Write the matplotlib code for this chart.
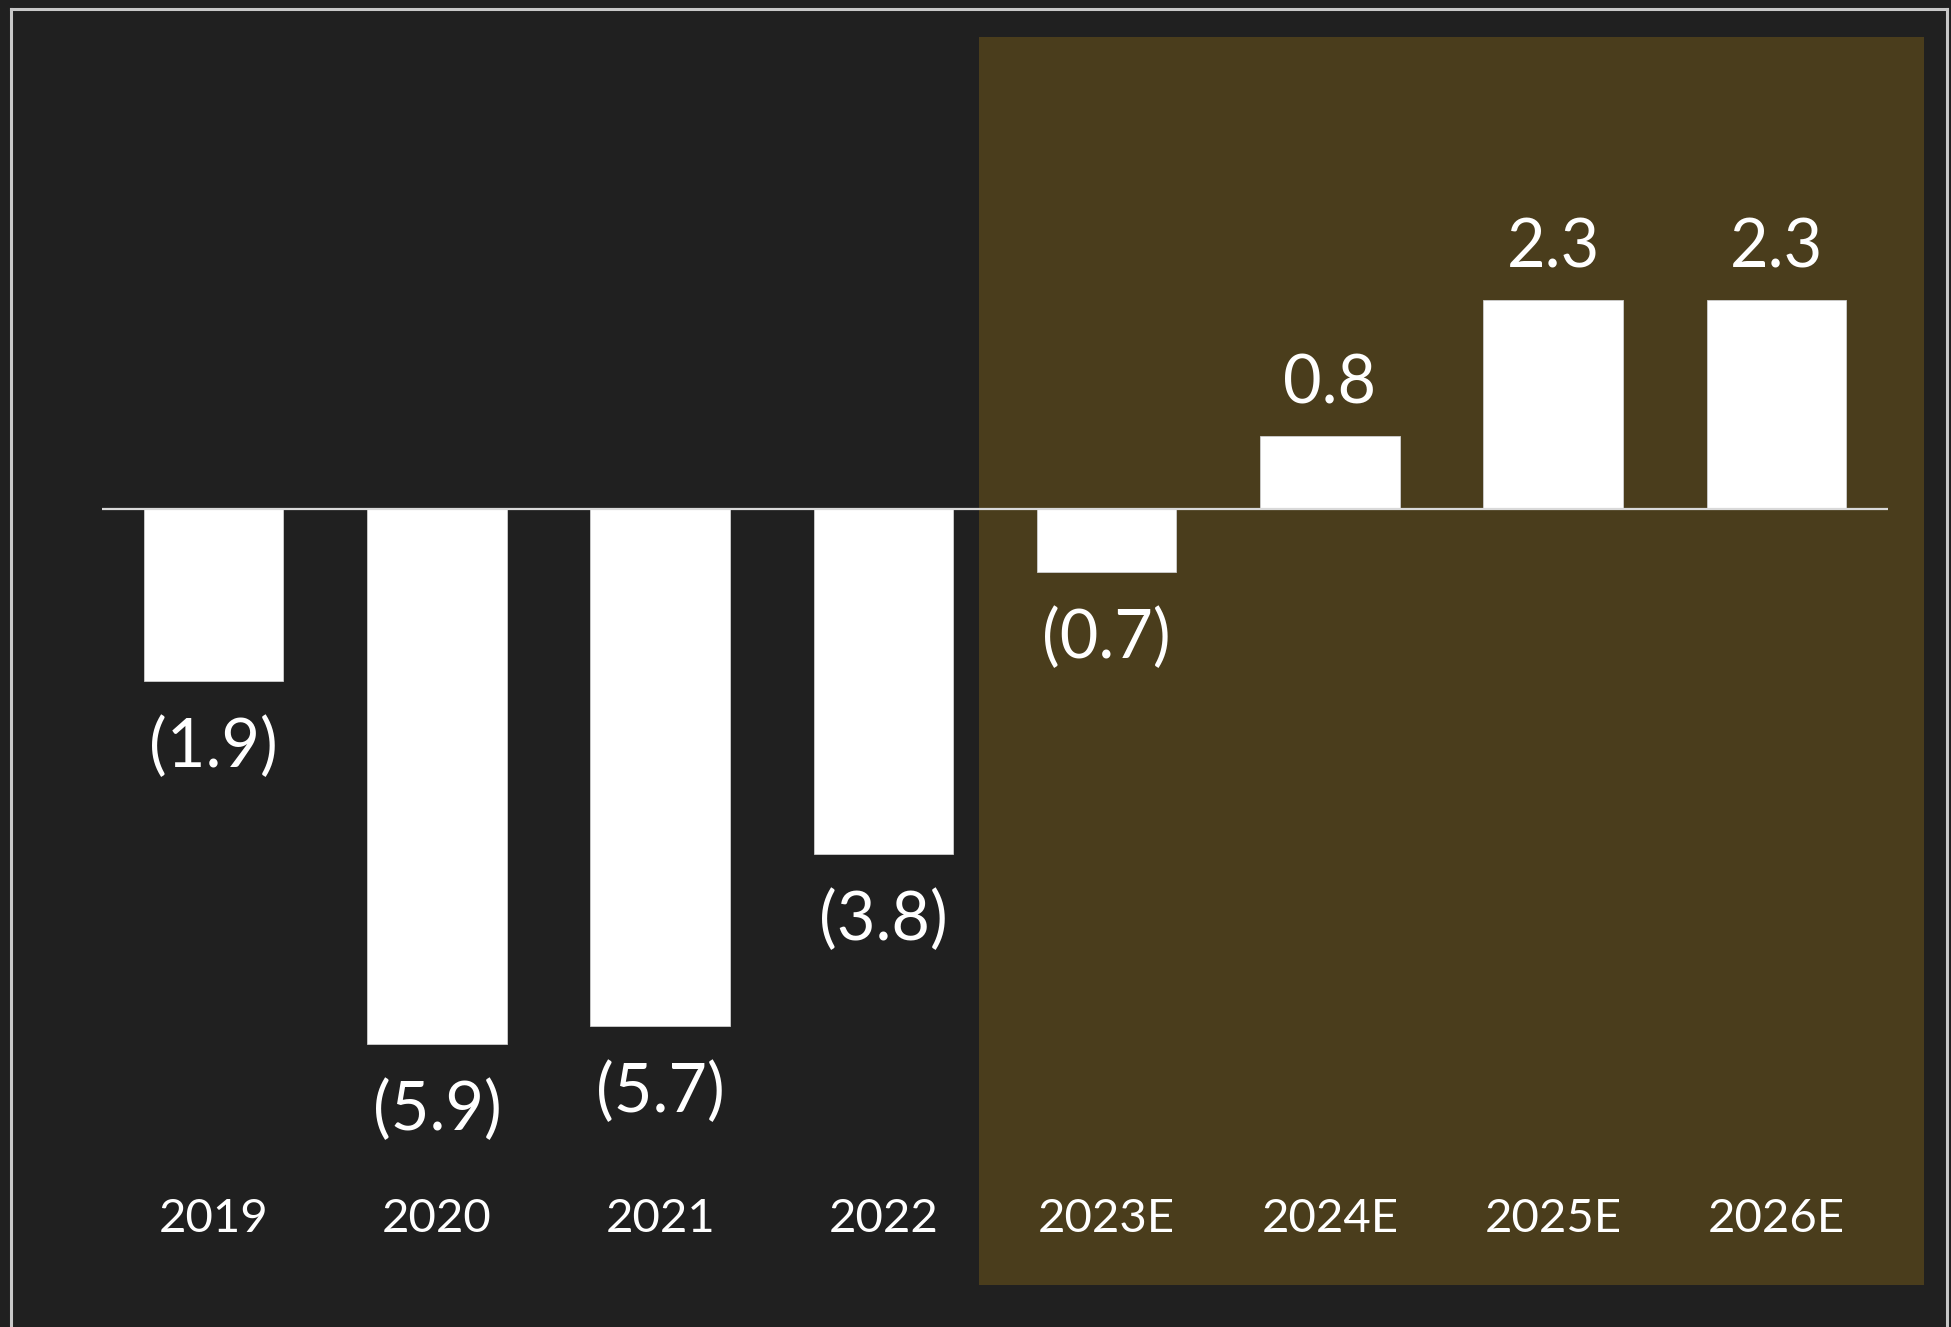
import matplotlib.pyplot as plt
from matplotlib.patches import Rectangle
from matplotlib.lines import Line2D

years = ["2019", "2020", "2021", "2022", "2023E", "2024E", "2025E", "2026E"]
values = [-1.9, -5.9, -5.7, -3.8, -0.7, 0.8, 2.3, 2.3]
labels = ["(1.9)", "(5.9)", "(5.7)", "(3.8)", "(0.7)", "0.8", "2.3", "2.3"]
first_estimate = 4  # index of first forecast year (shaded)

bg = "#202020"
shade = "#4a3d1c"

plt.rcParams['font.family'] = ['Lato', 'DejaVu Sans']

fig = plt.figure(figsize=(19.51, 13.27), dpi=100)
fig.patch.set_facecolor(bg)

ax = fig.add_axes([0.0523, 0.0317, 0.9154, 0.9405])
ax.set_facecolor(bg)
ax.set_xlim(-0.5, 7.5)
ax.set_ylim(-8.55, 5.2)

# shaded forecast block (goes a little past the axis to the right)
ax.add_patch(Rectangle((first_estimate - 0.57, 0), 4.23, 1,
                       transform=ax.get_xaxis_transform(),
                       facecolor=shade, edgecolor="none", clip_on=False, zorder=0))

x = list(range(len(years)))
ax.bar(x, values, width=0.625, color="white", edgecolor="#d0d0d0",
       linewidth=0.6, zorder=2)
ax.axhline(0, color="#d9d9d9", linewidth=1.6, zorder=3)

for i, (v, lab) in enumerate(zip(values, labels)):
    off = 37 if v > 0 else -48
    ax.annotate(lab, (i, v), xytext=(0, off), textcoords="offset points",
                ha="center", va="center", color="white", fontsize=48)
    ax.text(i, 0.053, years[i], transform=ax.get_xaxis_transform(),
            ha="center", va="center", color="white", fontsize=34)

for s in ax.spines.values():
    s.set_visible(False)
ax.set_xticks([])
ax.set_yticks([])

# outer frame (open at the bottom)
W, H = 1951, 1327
fx0, fx1, fy0 = 11 / W, 1947 / W, 1 - 9 / H
for xs, ys in [([fx0, fx0], [0, fy0]), ([fx0, fx1], [fy0, fy0]), ([fx1, fx1], [fy0, 0])]:
    fig.add_artist(Line2D(xs, ys, color="#c8c8c8", linewidth=2.2))

fig.savefig("out.png", dpi=100, facecolor=bg)
